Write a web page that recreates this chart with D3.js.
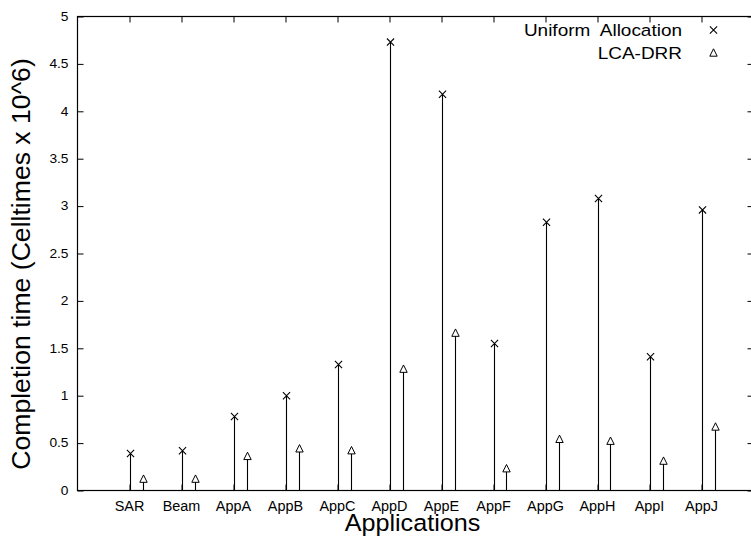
<!DOCTYPE html>
<html>
<head>
<meta charset="utf-8">
<script src="https://cdn.jsdelivr.net/npm/d3@7"></script>
<style>
  body { margin: 0; background: #fff; }
  svg { display: block; font-family: "Liberation Sans", Arial, Helvetica, sans-serif; }
  .legendText { white-space: pre; }
</style>
</head>
<body>
<svg></svg>
<script>
var apps = ['SAR', 'Beam', 'AppA', 'AppB', 'AppC', 'AppD', 'AppE', 'AppF', 'AppG', 'AppH', 'AppI', 'AppJ'];
var uniformValues = [0.39, 0.42, 0.78, 1.0, 1.33, 4.73, 4.18, 1.55, 2.83, 3.08, 1.41, 2.96];
var lcaValues = [0.12, 0.12, 0.36, 0.44, 0.42, 1.28, 1.66, 0.23, 0.54, 0.52, 0.31, 0.67];
var yTicks = [0, 0.5, 1, 1.5, 2, 2.5, 3, 3.5, 4, 4.5, 5];

var svgWidth = 751;
var svgHeight = 536;

var plotLeft = 77.5;
var plotTop = 16.5;
var plotBottom = 490.5;
var plotRight = 753.5;
var tickLen = 6;

var svg = d3.select('svg').attr('width', svgWidth).attr('height', svgHeight);

var xScale = d3.scaleLinear()
  .domain([0, apps.length + 1])
  .range([plotLeft, plotRight]);

var yScale = d3.scaleLinear()
  .domain([0, 5])
  .range([plotBottom, plotTop]);

var catIndex = apps.map((d, i) => i + 1);

// text in the original is slightly stretched sideways
function place(x, y, sx) {
  return 'translate(' + x + ',' + y + ') scale(' + sx + ',1)';
}

// y axis left + mirrored right, ticks inward
var yAxisLeft = svg.append('g')
  .attr('transform', 'translate(' + plotLeft + ',0)')
  .call(d3.axisRight(yScale).tickValues(yTicks).tickSize(tickLen).tickFormat(''));
yAxisLeft.select('.domain').remove();

var yAxisRight = svg.append('g')
  .attr('transform', 'translate(' + plotRight + ',0)')
  .call(d3.axisLeft(yScale).tickValues(yTicks).tickSize(tickLen).tickFormat(''));
yAxisRight.select('.domain').remove();

svg.append('g')
  .selectAll('text')
  .data(yTicks)
  .enter()
  .append('text')
  .attr('text-anchor', 'end')
  .attr('transform', (d) => place(plotLeft - 9, yScale(d) + 4.3, 1.1))
  .style('font-size', '12.5px')
  .text((d) => d3.format('~g')(d));

// x axis bottom + mirrored top
var xAxisBottom = svg.append('g')
  .attr('transform', 'translate(0,' + plotBottom + ')')
  .call(d3.axisTop(xScale).tickValues(catIndex).tickSize(tickLen).tickFormat(''));
xAxisBottom.select('.domain').remove();

var xAxisTop = svg.append('g')
  .attr('transform', 'translate(0,' + plotTop + ')')
  .call(d3.axisBottom(xScale).tickValues(catIndex).tickSize(tickLen).tickFormat(''));
xAxisTop.select('.domain').remove();

svg.selectAll('.tick line').attr('stroke', '#000').attr('stroke-width', 1);

svg.append('g')
  .selectAll('text')
  .data(apps)
  .enter()
  .append('text')
  .attr('text-anchor', 'middle')
  .attr('transform', (d, i) => place(xScale(i + 1), plotBottom + 20, 1.03))
  .style('font-size', '14px')
  .text((d) => d);

// border
svg.append('rect')
  .attr('x', plotLeft)
  .attr('y', plotTop)
  .attr('width', plotRight - plotLeft)
  .attr('height', plotBottom - plotTop)
  .attr('fill', 'none')
  .attr('stroke', '#000')
  .attr('stroke-width', 1.2);

// impulses
var marks = svg.append('g');

marks.selectAll('.uImpulse')
  .data(uniformValues)
  .enter()
  .append('line')
  .attr('x1', (d, i) => Math.round(xScale(i + 1)) + 0.5)
  .attr('x2', (d, i) => Math.round(xScale(i + 1)) + 0.5)
  .attr('y1', yScale(0))
  .attr('y2', (d) => yScale(d))
  .attr('stroke', '#000')
  .attr('stroke-width', 1.1);

marks.selectAll('.lImpulse')
  .data(lcaValues)
  .enter()
  .append('line')
  .attr('x1', (d, i) => Math.round(xScale(i + 1.25)) + 0.5)
  .attr('x2', (d, i) => Math.round(xScale(i + 1.25)) + 0.5)
  .attr('y1', yScale(0))
  .attr('y2', (d) => yScale(d))
  .attr('stroke', '#000')
  .attr('stroke-width', 1.1);

function crossPath(x, y) {
  var s = 3.6;
  return 'M' + (x - s) + ',' + (y - s) + 'L' + (x + s) + ',' + (y + s) +
    'M' + (x - s) + ',' + (y + s) + 'L' + (x + s) + ',' + (y - s);
}

function triPath(x, y) {
  var s = 3.7;
  return 'M' + x + ',' + (y - s - 0.5) + 'L' + (x + s) + ',' + (y + s - 0.5) + 'L' + (x - s) + ',' + (y + s - 0.5) + 'Z';
}

marks.selectAll('.uPoint')
  .data(uniformValues)
  .enter()
  .append('path')
  .attr('d', (d, i) => crossPath(Math.round(xScale(i + 1)) + 0.5, yScale(d)))
  .attr('stroke', '#000')
  .attr('stroke-width', 1.1)
  .attr('fill', 'none');

marks.selectAll('.lPoint')
  .data(lcaValues)
  .enter()
  .append('path')
  .attr('d', (d, i) => triPath(Math.round(xScale(i + 1.25)) + 0.5, yScale(d)))
  .attr('stroke', '#000')
  .attr('stroke-width', 1)
  .attr('fill', '#fff');

// legend
var legend = svg.append('g');
legend.append('text')
  .classed('legendText', true)
  .attr('text-anchor', 'end')
  .attr('transform', place(682, 36, 1.15))
  .style('font-size', '16.5px')
  .text('Uniform  Allocation');
legend.append('path')
  .attr('d', crossPath(713.5, 30))
  .attr('stroke', '#000')
  .attr('stroke-width', 1.1)
  .attr('fill', 'none');

legend.append('text')
  .classed('legendText', true)
  .attr('text-anchor', 'end')
  .attr('transform', place(682, 59, 1.15))
  .style('font-size', '16.5px')
  .text('LCA-DRR');
legend.append('path')
  .attr('d', triPath(713.5, 53))
  .attr('stroke', '#000')
  .attr('stroke-width', 1)
  .attr('fill', '#fff');

// axis titles
svg.append('text')
  .attr('text-anchor', 'middle')
  .attr('transform', place((plotLeft + plotRight) / 2 - 3, 531, 1.08))
  .style('font-size', '23.3px')
  .text('Applications');

svg.append('text')
  .attr('text-anchor', 'middle')
  .attr('transform', 'translate(30,264) rotate(-90)')
  .style('font-size', '26.6px')
  .text('Completion time (Celltimes x 10^6)');
</script>
</body>
</html>
